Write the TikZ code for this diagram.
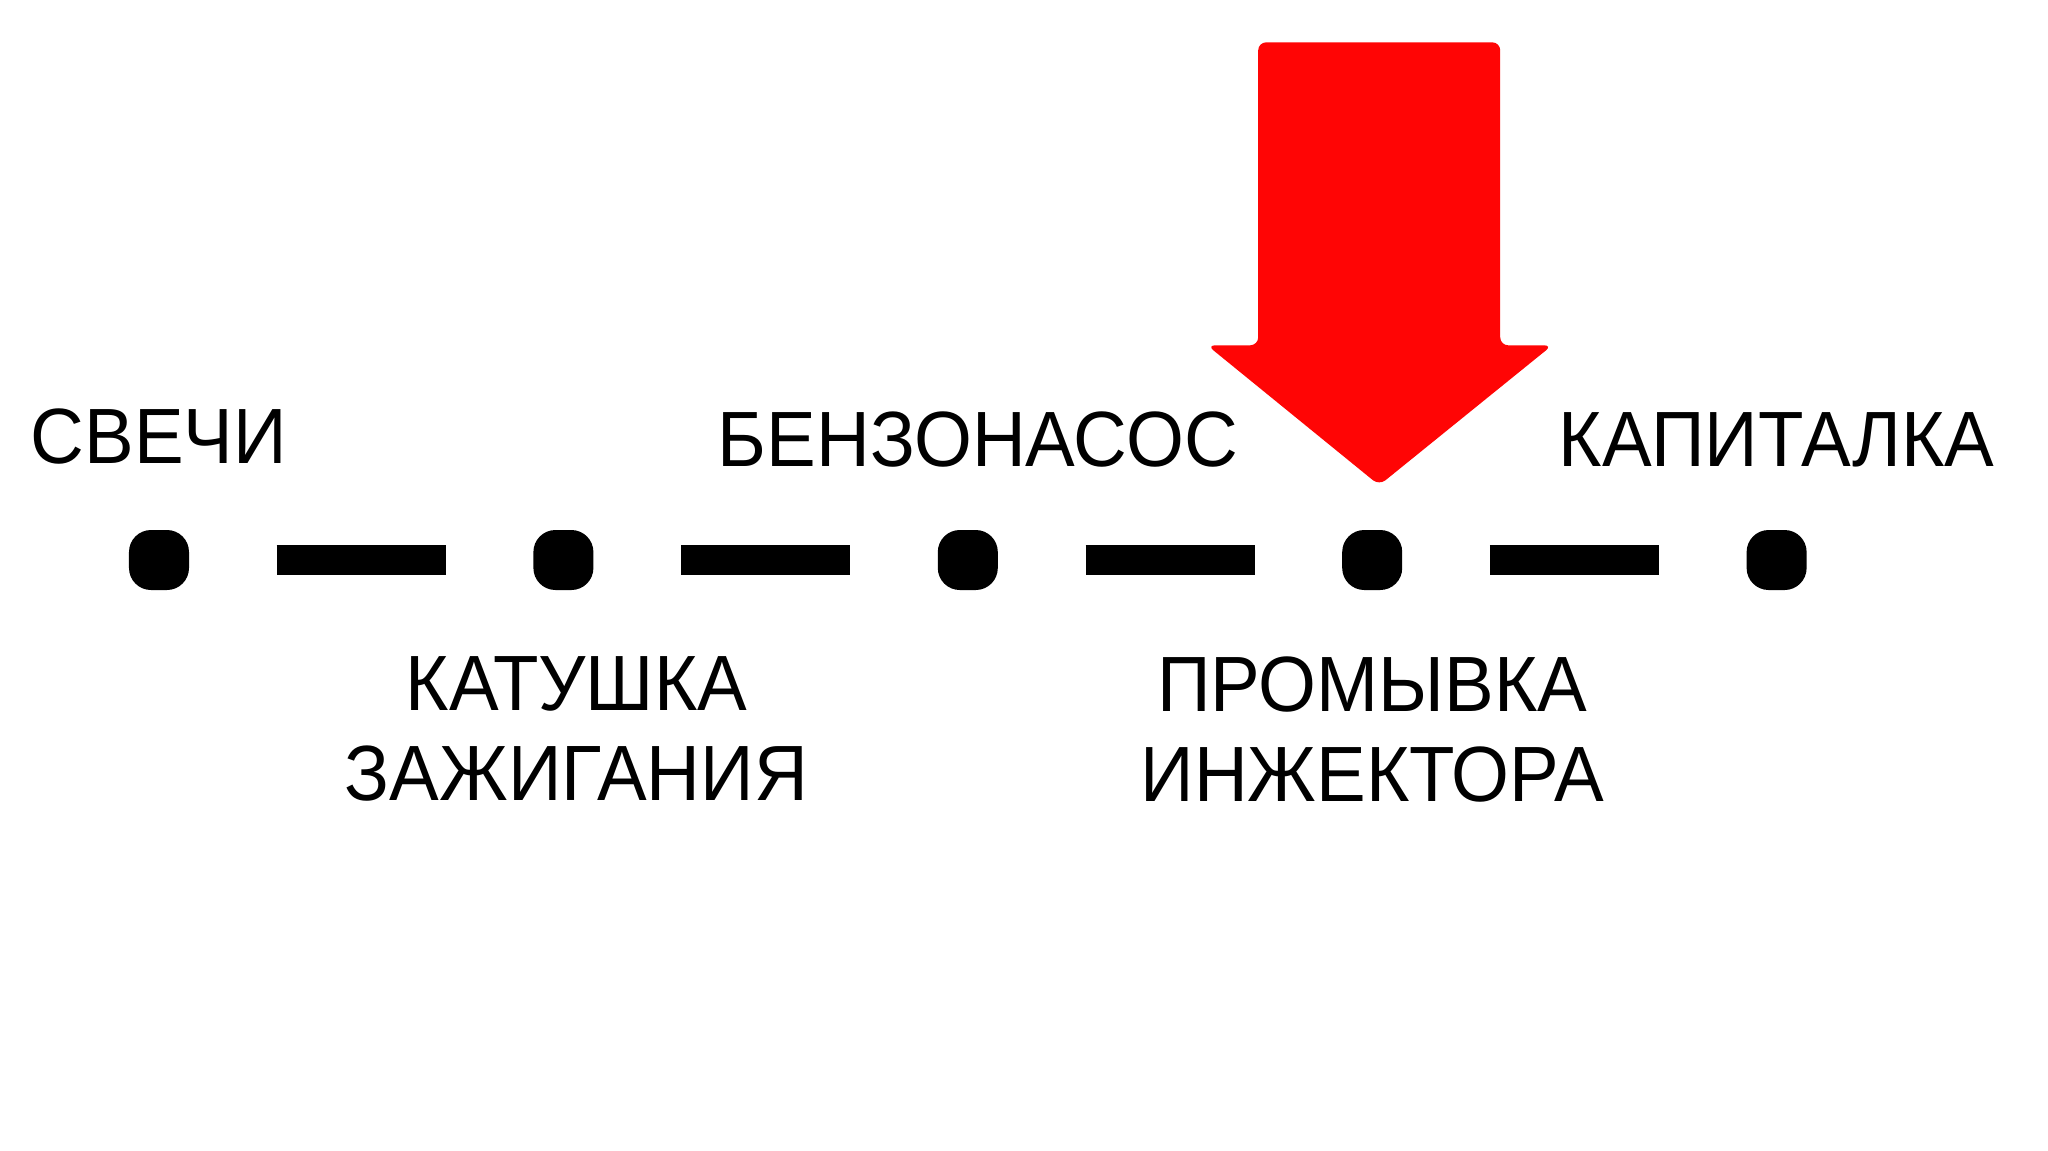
\documentclass[tikz,border=0pt]{standalone}
\usepackage{fontspec}
\setmainfont[FakeStretch=0.95]{Liberation Sans}
\usetikzlibrary{positioning}
\definecolor{rouge}{RGB}{255,5,5}
\tikzset{
	every node/.style = {font=\fontsize{22.3}{25.6}\selectfont, inner sep=0pt},
	point/.style = {fill=black, minimum size=0.6cm, rounded corners=0.22cm},
	tiret/.style = {line width=0.3cm, shorten <=0.87cm, shorten >=0.87cm},
	fleche/.style = {fill=rouge, rounded corners=0.08cm}
}

\begin{document}
\begin{tikzpicture}
		\useasboundingbox (0,0) rectangle (20.48,-11.51);
		\node[point] (d1) at (1.59,-5.60) {};
		\foreach \i [count=\j from 2] in {1,...,4}
			\node[point, right=3.43cm of d\i] (d\j) {};
		\foreach \i [count=\j from 2] in {1,...,4}
			\draw[tiret] (d\i) -- (d\j);

		\node[above=0.64cm of d1] (svechi) {СВЕЧИ};
		\node[above=0.61cm of d3, xshift=0.1cm] (benzonasos) {БЕНЗОНАСОС};
		\node[above=0.61cm of d5] (kapitalka) {КАПИТАЛКА};
		\node[below=0.65cm of d2, xshift=0.13cm, align=center] (katushka) {КАТУШКА\\ЗАЖИГАНИЯ};
		\node[below=0.65cm of d4, align=center] (promyvka) {ПРОМЫВКА\\ИНЖЕКТОРА};

		\coordinate[above=0.44cm of d4, xshift=0.07cm] (pointe);
		\fill[fleche] (pointe) -- ++(-1.72,1.40) -- ++(0.51,0) -- ++(0,3.03)
			-- ++(2.42,0) -- ++(0,-3.03) -- ++(0.52,0) -- cycle;
	\end{tikzpicture}
\end{document}
